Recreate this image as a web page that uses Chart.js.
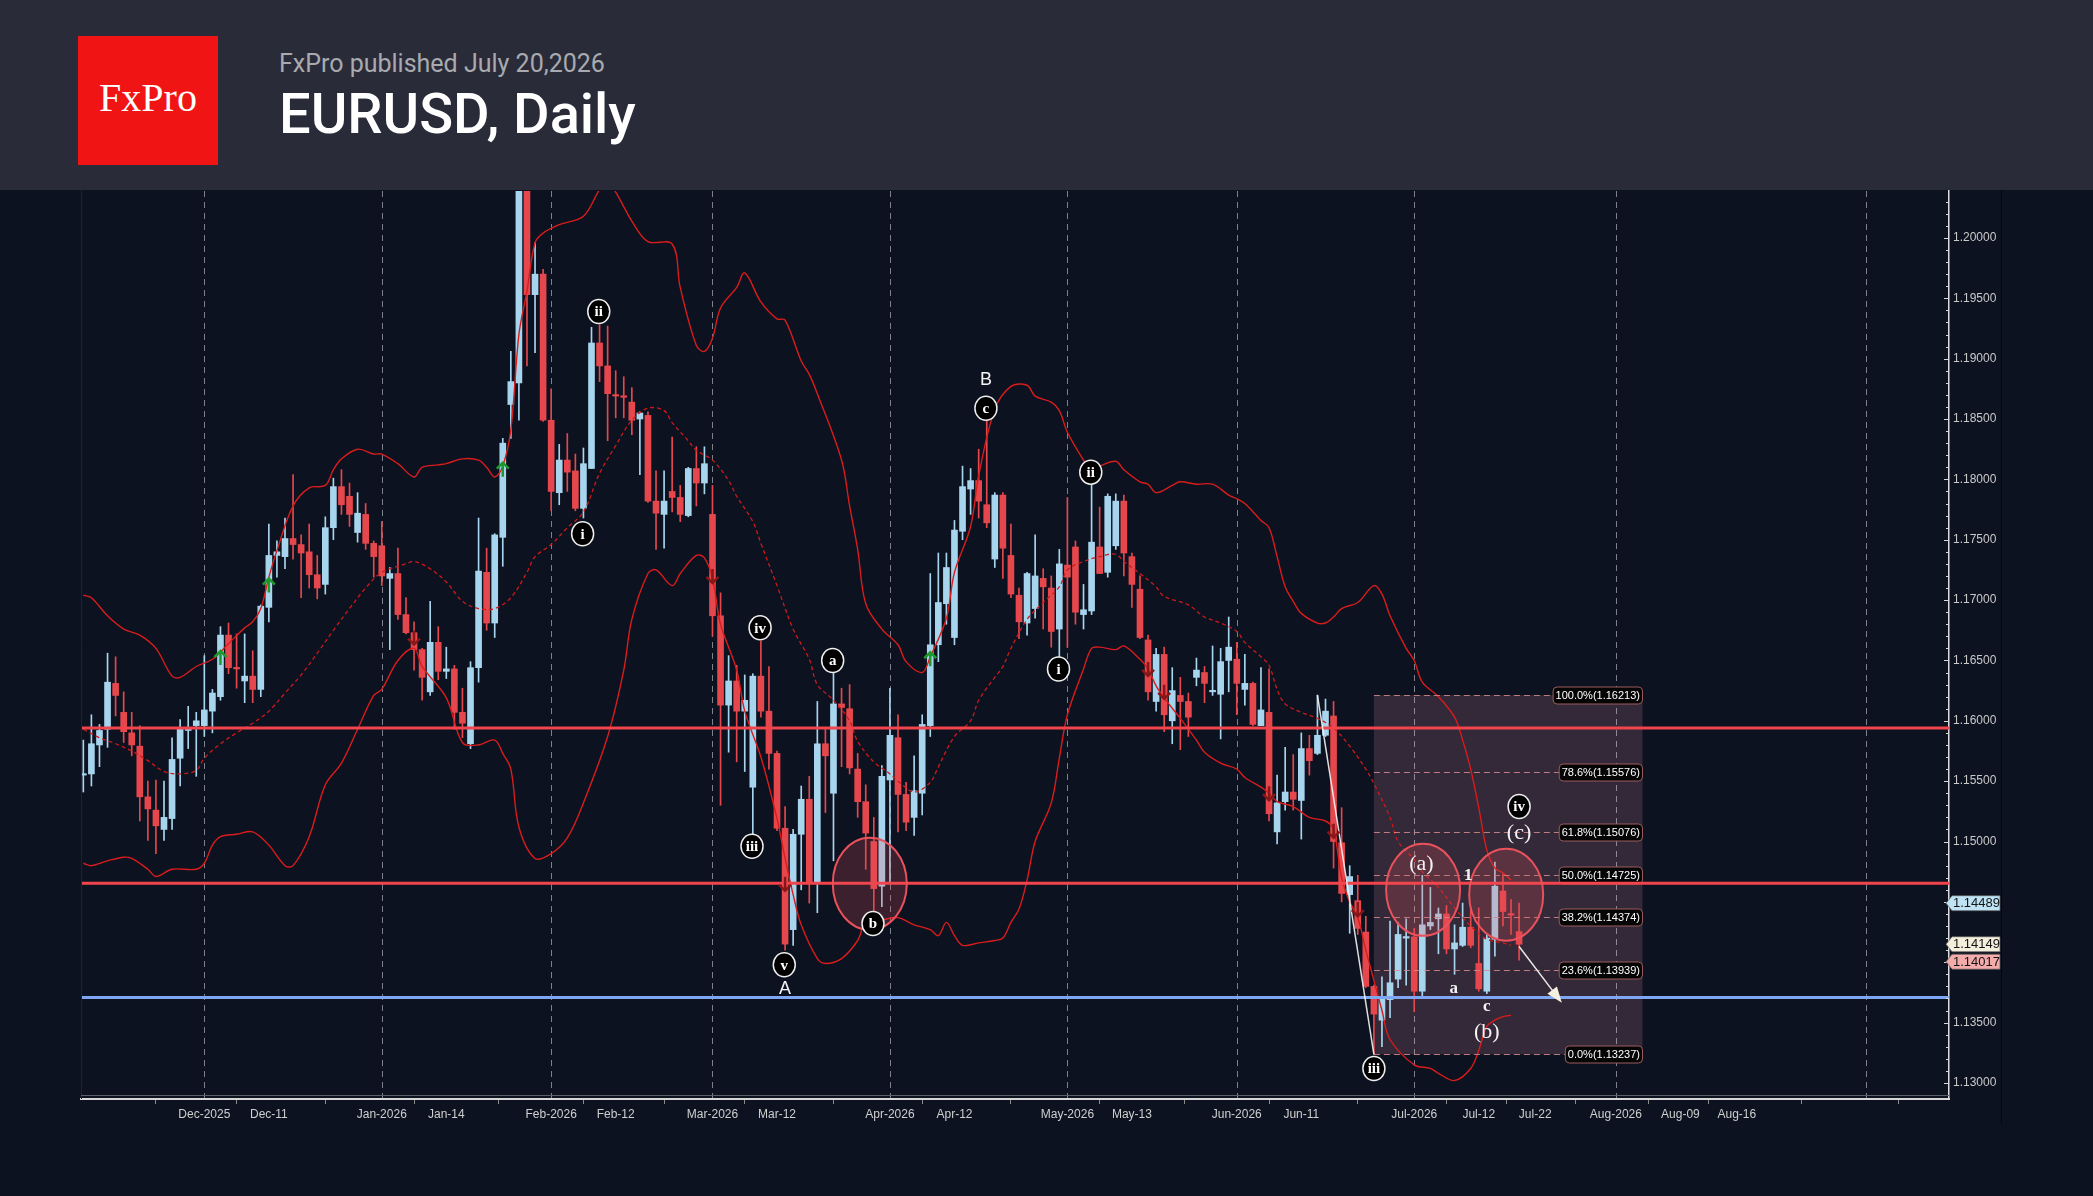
<!DOCTYPE html>
<html>
<head>
<meta charset="utf-8">
<script src="https://cdn.jsdelivr.net/npm/chart.js@4.4.1/dist/chart.umd.min.js"></script>
<style>
  html, body { margin:0; padding:0; background:#0c1220; width:2093px; height:1196px; overflow:hidden; }
  #header { position:absolute; left:0; top:0; width:2093px; height:190px; background:#292c38; }
  #logo { position:absolute; left:78px; top:36px; width:140px; height:129px; background:#f11414; }
  #logo span { position:absolute; left:0; width:140px; top:42px; text-align:center; color:#fff;
               font-family:'Liberation Serif', serif; font-size:40px; line-height:40px; }
  #sub { position:absolute; left:279px; top:51px; font-family:Roboto, sans-serif; font-size:25px; line-height:25px; color:#a9aab0; }
  #title { position:absolute; left:279px; top:86px; font-family:Roboto, sans-serif; font-size:56px; line-height:56px; font-weight:500; color:#fff; }
  #wrap { position:absolute; left:0; top:190px; width:2093px; height:1006px; }
</style>
</head>
<body>
<div id="header">
  <div id="logo"><span>FxPro</span></div>
  <div id="sub">FxPro published July 20,2026</div>
  <div id="title">EURUSD, Daily</div>
</div>
<div id="wrap"><canvas id="chart" width="2093" height="1006"></canvas></div>
<script>
// Daily candles, index 0 = first bar on the left (late Nov 2025), last = Jul 20 2026
const candleOpen = [
  1.1555,1.1556,1.1580,1.1593,1.1631,1.1607,1.1590,1.1579,1.1537,1.1526,
  1.1510,1.1519,1.1569,1.1592,1.1596,1.1596,1.1608,1.1620,1.1671,1.1644,
  1.1633,1.1637,1.1626,1.1694,1.1737,1.1736,1.1751,1.1746,1.1740,1.1721,
  1.1713,1.1760,1.1794,1.1786,1.1756,1.1771,1.1747,1.1745,1.1718,1.1722,
  1.1688,1.1673,1.1659,1.1624,1.1665,1.1641,1.1643,1.1607,1.1581,1.1644,
  1.1723,1.1681,1.1752,1.1862,1.1880,1.2055,1.1953,1.1970,1.1849,1.1789,
  1.1816,1.1807,1.1776,1.1809,1.1913,1.1894,1.1870,1.1869,1.1864,1.1850,
  1.1853,1.1782,1.1771,1.1790,1.1785,1.1770,1.1809,1.1797,1.1771,1.1687,
  1.1613,1.1633,1.1608,1.1545,1.1637,1.1608,1.1573,1.1511,1.1427,1.1506,
  1.1535,1.1466,1.1581,1.1540,1.1614,1.1610,1.1560,1.1533,1.1500,1.1463,
  1.1551,1.1586,1.1539,1.1520,1.1540,1.1596,1.1663,1.1697,1.1669,1.1757,
  1.1792,1.1799,1.1779,1.1734,1.1787,1.1737,1.1704,1.1681,1.1693,1.1718,
  1.1710,1.1676,1.1729,1.1744,1.1688,1.1691,1.1744,1.1723,1.1745,1.1782,
  1.1736,1.1709,1.1667,1.1616,1.1655,1.1600,1.1621,1.1616,1.1636,1.1640,
  1.1624,1.1622,1.1650,1.1651,1.1626,1.1631,1.1596,1.1607,1.1508,1.1533,
  1.1541,1.1534,1.1577,1.1573,1.1588,1.1604,1.1499,1.1456,1.1451,1.1425,
  1.1380,1.1352,1.1369,1.1386,1.1420,1.1421,1.1376,1.1430,1.1436,1.1440,
  1.1411,1.1414,1.1429,1.1399,1.1376,1.1419,1.1459,1.1440,1.14254
];
const candleHigh = [
  1.1584,1.1605,1.1597,1.1656,1.1653,1.1624,1.1607,1.1596,1.1550,1.1551,
  1.1550,1.1586,1.1601,1.1612,1.1607,1.1654,1.1626,1.1678,1.1681,1.1672,
  1.1672,1.1658,1.1696,1.1763,1.1749,1.1768,1.1804,1.1754,1.1763,1.1737,
  1.1769,1.1801,1.1808,1.1797,1.1789,1.1780,1.1749,1.1765,1.1727,1.1743,
  1.1702,1.1682,1.1660,1.1699,1.1678,1.1661,1.1646,1.1627,1.1649,1.1768,
  1.1743,1.1755,1.1834,1.1906,1.2085,1.2090,1.1996,1.1974,1.1875,1.1829,
  1.1838,1.1821,1.1826,1.1926,1.1928,1.1927,1.1890,1.1885,1.1876,1.1856,
  1.1856,1.1807,1.1807,1.1835,1.1795,1.1810,1.1827,1.1827,1.1795,1.1706,
  1.1654,1.1646,1.1638,1.1639,1.1666,1.1645,1.1575,1.1529,1.1510,1.1546,
  1.1554,1.1616,1.1594,1.1640,1.1627,1.1630,1.1573,1.1547,1.1520,1.1563,
  1.1627,1.1605,1.1549,1.1571,1.1605,1.1722,1.1739,1.1739,1.1766,1.1811,
  1.1809,1.1825,1.1851,1.1789,1.1789,1.1763,1.1710,1.1723,1.1754,1.1726,
  1.1720,1.1742,1.1785,1.1749,1.1713,1.1797,1.1777,1.1788,1.1788,1.1787,
  1.1739,1.1720,1.1671,1.1660,1.1661,1.1644,1.1636,1.1623,1.1652,1.1645,
  1.1662,1.1660,1.1686,1.1665,1.1655,1.1632,1.1644,1.1643,1.1555,1.1578,
  1.1572,1.1590,1.1588,1.16213,1.1618,1.1616,1.1528,1.1480,1.1472,1.1438,
  1.1381,1.1388,1.1434,1.1433,1.1436,1.1428,1.1472,1.1462,1.1445,1.1447,
  1.1431,1.1449,1.1445,1.1445,1.1423,1.1483,1.1473,1.1452,1.14489
];
const candleLow = [
  1.1541,1.1546,1.1562,1.1578,1.1604,1.1582,1.1571,1.1517,1.1501,1.1490,
  1.1501,1.1510,1.1546,1.1577,1.1554,1.1587,1.1590,1.1617,1.1639,1.1627,
  1.1615,1.1615,1.1620,1.1682,1.1719,1.1726,1.1734,1.1702,1.1710,1.1701,
  1.1705,1.1750,1.1771,1.1761,1.1748,1.1742,1.1719,1.1712,1.1659,1.1684,
  1.1672,1.1642,1.1617,1.1621,1.1634,1.1635,1.1593,1.1586,1.1577,1.1632,
  1.1675,1.1669,1.1728,1.1834,1.1849,1.1894,1.1905,1.1848,1.1774,1.1779,
  1.1790,1.1774,1.1768,1.1809,1.1881,1.1832,1.1851,1.1851,1.1837,1.1804,
  1.1781,1.1742,1.1743,1.1773,1.1765,1.1769,1.1778,1.1788,1.1670,1.1530,
  1.1574,1.1566,1.1558,1.1499,1.1603,1.1560,1.1509,1.1410,1.1414,1.1460,
  1.1449,1.1441,1.1524,1.1484,1.1562,1.1556,1.1520,1.1477,1.1432,1.1446,
  1.1465,1.1508,1.1509,1.1505,1.1522,1.1587,1.1649,1.1680,1.1663,1.1750,
  1.1771,1.1768,1.1760,1.1727,1.1718,1.1702,1.1668,1.1671,1.1685,1.1676,
  1.1661,1.1653,1.1661,1.1680,1.1676,1.1688,1.1722,1.1719,1.1742,1.1720,
  1.1694,1.1668,1.1617,1.1608,1.1591,1.1581,1.1576,1.1587,1.1629,1.1615,
  1.1621,1.1585,1.1624,1.1605,1.1613,1.1596,1.1596,1.1517,1.1498,1.1526,
  1.1526,1.1502,1.1555,1.1572,1.1587,1.1478,1.1450,1.1424,1.1423,1.1379,
  1.13237,1.1330,1.1354,1.1379,1.1381,1.1359,1.1372,1.1427,1.1407,1.1407,
  1.1390,1.1413,1.1412,1.1376,1.1374,1.1405,1.1430,1.1423,1.14017
];
const candleClose = [
  1.1556,1.1581,1.1592,1.1632,1.1621,1.1591,1.1580,1.1537,1.1527,1.1513,
  1.1520,1.1568,1.1593,1.1594,1.1600,1.1609,1.1623,1.1671,1.1644,1.1643,
  1.1637,1.1626,1.1695,1.1737,1.1740,1.1751,1.1746,1.1739,1.1721,1.1710,
  1.1760,1.1794,1.1779,1.1771,1.1772,1.1747,1.1736,1.1720,1.1722,1.1688,
  1.1673,1.1659,1.1636,1.1665,1.1641,1.1643,1.1607,1.1598,1.1644,1.1724,
  1.1681,1.1754,1.1830,1.1881,1.2055,1.1953,1.1970,1.1849,1.1790,1.1816,
  1.1806,1.1776,1.1813,1.1913,1.1894,1.1871,1.1869,1.1868,1.1849,1.1855,
  1.1782,1.1772,1.1782,1.1785,1.1771,1.1809,1.1797,1.1813,1.1687,1.1613,
  1.1633,1.1608,1.1617,1.1637,1.1608,1.1573,1.1511,1.1415,1.1506,1.1535,
  1.1466,1.1581,1.1571,1.1614,1.1611,1.1561,1.1533,1.1507,1.1461,1.1554,
  1.1588,1.1539,1.1516,1.1542,1.1597,1.1663,1.1698,1.1727,1.1758,1.1794,
  1.1799,1.1782,1.1764,1.1787,1.1743,1.1705,1.1682,1.1722,1.1720,1.1711,
  1.1674,1.1730,1.1719,1.1690,1.1692,1.1748,1.1722,1.1786,1.1782,1.1739,
  1.1713,1.1669,1.1624,1.1655,1.1605,1.1625,1.1616,1.1603,1.1642,1.1631,
  1.1625,1.1649,1.1661,1.1631,1.1631,1.1597,1.1609,1.1523,1.1532,1.1541,
  1.1535,1.1577,1.1567,1.1588,1.1608,1.1500,1.1457,1.1471,1.1428,1.1380,
  1.1357,1.1370,1.1383,1.1423,1.1421,1.1376,1.1431,1.1433,1.1440,1.1411,
  1.1416,1.1429,1.1414,1.1378,1.1420,1.1463,1.1442,1.1439,1.14149
];

// Bollinger bands: [bar index, price]
const bbUpper = [
  [0,1.1704],[1,1.1702],[3,1.1687],[5,1.1676],[7,1.1671],[9,1.1660],[11,1.1637],[12,1.1636],[14,1.1645],
  [16,1.1651],[18,1.1664],[20,1.1677],[21,1.1682],[22,1.1693],[23,1.1719],[24,1.1741],[26,1.1778],[28,1.1793],
  [30,1.1795],[31,1.1808],[32,1.1817],[34,1.1825],[36,1.1821],[37,1.1821],[39,1.1813],[41,1.1802],[42,1.1810],
  [44,1.1812],[45,1.1813],[47,1.1817],[49,1.1816],[50,1.1810],[51,1.1802],[52,1.1811],[53,1.1841],[54,1.1920],
  [55,1.1956],[56,1.1996],[57,1.2004],[59,1.2011],[62,1.2018],[64,1.2040],[65,1.2046],[66,1.2038],[68,1.2014],
  [70,1.1997],[73,1.1995],[74,1.1959],[76,1.1911],[77,1.1906],[78,1.1917],[79,1.1942],[81,1.1959],[82,1.1971],
  [84,1.1947],[86,1.1933],[87,1.1932],[89,1.1898],[90,1.1887],[91,1.1871],[94,1.1816],[95,1.1778],[96,1.1742],
  [97,1.1697],[99,1.1676],[101,1.1663],[102,1.1649],[104,1.1640],[105,1.1653],[107,1.1685],[108,1.1723],
  [110,1.1761],[111,1.1803],[113,1.1858],[115,1.1877],[117,1.1878],[118,1.1869],[120,1.1864],[121,1.1857],
  [122,1.1839],[124,1.1816],[125,1.1808],[126,1.1811],[128,1.1815],[129,1.1808],[131,1.1798],[132,1.1796],
  [133,1.1789],[135,1.1795],[136,1.1798],[138,1.1796],[140,1.1796],[142,1.1787],[143,1.1784],[144,1.1780],
  [146,1.1766],[147,1.1760],[148,1.1736],[149,1.1711],[150,1.1699],[151,1.1689],[153,1.1681],[154,1.1681],
  [155,1.1686],[156,1.1693],[158,1.1698],[160,1.1712],[161,1.1705],[162,1.1687],[164,1.1660],[165,1.1650],
  [166,1.1632],[168,1.1620],[170,1.1603],[171,1.1584],[172,1.1560],[173,1.1528],[174,1.1493],[175,1.1478],
  [176,1.1474],[177,1.1468]
];
const bbMiddle = [
  [0,1.1593],[2,1.1586],[4,1.1581],[6,1.1575],[8,1.1567],[10,1.1558],[12,1.1556],[14,1.1559],[15,1.1569],
  [17,1.1581],[19,1.1590],[21,1.1598],[23,1.1608],[25,1.1623],[27,1.1638],[29,1.1656],[31,1.1675],[33,1.1693],
  [35,1.1710],[37,1.1723],[40,1.1730],[41,1.1732],[43,1.1726],[45,1.1715],[47,1.1699],[49,1.1693],[51,1.1693],
  [53,1.1702],[55,1.1723],[56,1.1736],[58,1.1746],[60,1.1760],[62,1.1773],[64,1.1805],[66,1.1828],[68,1.1849],
  [70,1.1859],[72,1.1857],[73,1.1847],[75,1.1832],[76,1.1824],[78,1.1816],[80,1.1799],[81,1.1786],[83,1.1765],
  [84,1.1747],[86,1.1712],[88,1.1676],[90,1.1651],[91,1.1630],[93,1.1617],[95,1.1600],[96,1.1583],[98,1.1566],
  [100,1.1556],[101,1.1550],[103,1.1541],[105,1.1549],[106,1.1562],[108,1.1587],[110,1.1600],[111,1.1617],
  [113,1.1636],[114,1.1645],[115,1.1660],[117,1.1684],[119,1.1698],[121,1.1711],[122,1.1725],[124,1.1732],
  [126,1.1736],[128,1.1738],[129,1.1732],[131,1.1722],[133,1.1711],[134,1.1703],[137,1.1696],[139,1.1686],
  [141,1.1681],[143,1.1674],[144,1.1665],[146,1.1653],[147,1.1646],[148,1.1626],[149,1.1614],[151,1.1607],
  [153,1.1602],[155,1.1594],[157,1.1579],[159,1.1560],[160,1.1548],[162,1.1520],[163,1.1500],[165,1.1485],
  [166,1.1475],[168,1.1462],[170,1.1445],[172,1.1430],[174,1.1419],[176,1.1416],[177,1.1414]
];
const bbLower = [
  [0,1.1482],[1,1.1480],[3,1.1484],[5,1.1487],[6,1.1486],[8,1.1477],[9,1.1471],[11,1.1477],[14,1.1477],
  [15,1.1482],[16,1.1497],[17,1.1504],[19,1.1506],[21,1.1508],[23,1.1497],[25,1.1480],[26,1.1480],[28,1.1504],
  [30,1.1547],[32,1.1565],[34,1.1593],[36,1.1621],[37,1.1626],[39,1.1650],[41,1.1660],[42,1.1645],[45,1.1619],
  [47,1.1582],[49,1.1580],[51,1.1584],[52,1.1573],[53,1.1560],[54,1.1512],[56,1.1486],[58,1.1490],[60,1.1503],
  [62,1.1532],[65,1.1587],[67,1.1642],[68,1.1684],[70,1.1722],[71,1.1725],[73,1.1712],[74,1.1722],[76,1.1737],
  [77,1.1735],[78,1.1718],[79,1.1680],[81,1.1642],[82,1.1608],[84,1.1570],[86,1.1519],[87,1.1486],[88,1.1456],
  [89,1.1431],[91,1.1403],[92,1.1399],[94,1.1403],[96,1.1418],[97,1.1433],[99,1.1435],[101,1.1437],[103,1.1431],
  [105,1.1427],[106,1.1422],[107,1.1433],[108,1.1422],[109,1.1414],[111,1.1416],[113,1.1418],[114,1.1420],
  [115,1.1433],[116,1.1444],[117,1.1468],[118,1.1500],[120,1.1532],[121,1.1569],[122,1.1605],[124,1.1643],
  [125,1.1660],[126,1.1661],[128,1.1659],[129,1.1662],[131,1.1651],[132,1.1643],[133,1.1629],[134,1.1619],
  [136,1.1602],[138,1.1584],[139,1.1574],[141,1.1565],[143,1.1560],[144,1.1553],[146,1.1545],[147,1.1540],
  [148,1.1533],[150,1.1529],[152,1.1520],[154,1.1517],[155,1.1510],[156,1.1470],[157,1.1450],[158,1.1437],
  [159,1.1410],[160,1.1385],[161,1.1360],[162,1.1336],[165,1.1315],[167,1.1312],[168,1.1308],[170,1.1302],
  [172,1.1312],[173,1.1327],[174,1.1347],[175,1.1352],[176,1.1355],[177,1.1356]
];

// x axis ticks (bar index) and their labels
const tickIdx = [3,15,23,37,45,58,66,78,86,100,108,122,130,143,151,165,173,180,190,198,205,221,229];
const tickLabels = ['','Dec-2025','Dec-11','Jan-2026','Jan-14','Feb-2026','Feb-12','Mar-2026','Mar-12',
  'Apr-2026','Apr-12','May-2026','May-13','Jun-2026','Jun-11','Jul-2026','Jul-12','Jul-22',
  'Aug-2026','Aug-09','Aug-16','',''];
const monthLineIdx = [15,37,58,78,100,122,143,165,190,221];

// horizontal levels
const resistanceLevels = [1.15941, 1.14654];
const supportLevels = [1.13707];

// Fibonacci retracement
const fibRatios = [100.0, 78.6, 61.8, 50.0, 38.2, 23.6, 0.0];
const fibPrices = [1.16213, 1.15576, 1.15076, 1.14725, 1.14374, 1.13939, 1.13237];
const fibFromIdx = 160, fibToIdx = 193.3;

// wave counts
const waveText  = ['ii','i','iv','iii','v','a','b','c','ii','i','iii','iv'];
const waveIdx   = [63.9,61.9,83.9,82.9,86.9,92.9,97.9,111.9,124.9,120.9,160,178];
const wavePrice = [1.1939,1.1755,1.1677,1.1496,1.1398,1.1650,1.1432,1.1859,1.1806,1.1643,1.1312,1.1529];
const noteText  = ['B','A','(a)','(c)','(b)','a','c','1'];
const noteIdx   = [111.9,87,165.9,178,174,169.9,174,171.7];
const notePrice = [1.1882,1.1378,1.1481,1.1507,1.1342,1.1378,1.1363,1.1472];

// signal arrows
const upArrowIdx = [17,23,52,105];
const upArrowPrice = [1.1652,1.1712,1.1808,1.1651];
const downArrowIdx = [41,78,87,132,134,147,155,158];
const downArrowPrice = [1.1669,1.1720,1.1465,1.1643,1.1624,1.1540,1.1509,1.1444];

// highlighted zones
const zoneIdx = [97.5,166.1,176.4];
const zonePrice = [1.1465,1.1460,1.1456];

// wave iii leg and projected move
const legIdx = [153,160];
const legPrice = [1.16213,1.13237];
const projIdx = [178,183];
const projPrice = [1.1413,1.1369];

// right-hand price tags: high, close, low of the last bar
const tagPrices = [1.14489,1.14149,1.14017];

const BULL = '#a8d5ee';
const BEAR = '#e6474d';

const wickData = candleLow.map((l, i) => ({ x: i, y: [l, candleHigh[i]] }));
const bodyData = candleOpen.map((o, i) => ({ x: i, y: [o, candleClose[i]] }));
const candleColors = candleOpen.map((o, i) => candleClose[i] >= o ? BULL : BEAR);

function isMajor(v) {
    return Math.abs(v * 200 - Math.round(v * 200)) < 1e-6;
}

function roundRect(ctx, x, y, w, h, r) {
    ctx.beginPath();
    ctx.moveTo(x + r, y);
    ctx.lineTo(x + w - r, y);
    ctx.arcTo(x + w, y, x + w, y + r, r);
    ctx.lineTo(x + w, y + h - r);
    ctx.arcTo(x + w, y + h, x + w - r, y + h, r);
    ctx.lineTo(x + r, y + h);
    ctx.arcTo(x, y + h, x, y + h - r, r);
    ctx.lineTo(x, y + r);
    ctx.arcTo(x, y, x + r, y, r);
    ctx.closePath();
}

function arrow(ctx, cx, cy, up, color) {
    const d = up ? -1 : 1;
    ctx.strokeStyle = color;
    ctx.lineWidth = 2.5;
    ctx.setLineDash([]);
    ctx.beginPath();
    ctx.moveTo(cx, cy - d * 7);
    ctx.lineTo(cx, cy + d * 7);
    ctx.moveTo(cx - 6, cy + d * 1);
    ctx.lineTo(cx, cy + d * 7);
    ctx.lineTo(cx + 6, cy + d * 1);
    ctx.stroke();
}

// no extra room for half tick labels: the plot runs right up to the header
function noPad(s) {
    s.paddingTop = 0;
    s.paddingBottom = 0;
    s.paddingLeft = 0;
    s.paddingRight = 0;
}

const overlay = {
    id: 'overlay',
    beforeDatasetsDraw(chart) {
        const { ctx, chartArea: a, scales: { x, y } } = chart;
        ctx.save();
        ctx.beginPath();
        ctx.rect(a.left, a.top, a.right - a.left, a.bottom - a.top);
        ctx.clip();

        // fib box
        const bx0 = x.getPixelForValue(fibFromIdx), bx1 = x.getPixelForValue(fibToIdx);
        const by0 = y.getPixelForValue(fibPrices[0]), by1 = y.getPixelForValue(fibPrices[fibPrices.length - 1]);
        ctx.fillStyle = 'rgba(122,84,100,0.36)';
        ctx.fillRect(bx0, by0, bx1 - bx0, by1 - by0);

        // month separators
        ctx.strokeStyle = 'rgba(205,205,212,0.6)';
        ctx.lineWidth = 1;
        ctx.setLineDash([6, 5]);
        monthLineIdx.forEach(i => {
            const px = Math.round(x.getPixelForValue(i)) + 0.5;
            ctx.beginPath();
            ctx.moveTo(px, a.top);
            ctx.lineTo(px, a.bottom);
            ctx.stroke();
        });
        ctx.restore();
    },
    afterDatasetsDraw(chart) {
        const { ctx, chartArea: a, scales: { x, y } } = chart;
        ctx.save();
        ctx.beginPath();
        ctx.rect(a.left, a.top, a.right - a.left, a.bottom - a.top);
        ctx.clip();

        // fib level lines + labels
        const bx0 = x.getPixelForValue(fibFromIdx), bx1 = x.getPixelForValue(fibToIdx);
        ctx.font = '11px "Liberation Sans", Arial, sans-serif';
        fibPrices.forEach((p, k) => {
            const py = Math.round(y.getPixelForValue(p)) + 0.5;
            const txt = fibRatios[k].toFixed(1) + '%(' + p.toFixed(5) + ')';
            const w = ctx.measureText(txt).width + 5;
            const lx = bx1 - w;
            ctx.strokeStyle = 'rgba(214,140,140,0.85)';
            ctx.lineWidth = 1;
            ctx.setLineDash([6, 4]);
            ctx.beginPath();
            ctx.moveTo(bx0, py);
            ctx.lineTo(lx, py);
            ctx.stroke();
            ctx.setLineDash([]);
            roundRect(ctx, lx, py - 8.5, w, 17, 4);
            ctx.fillStyle = '#050505';
            ctx.fill();
            ctx.strokeStyle = '#9c5c5c';
            ctx.stroke();
            ctx.fillStyle = '#ffffff';
            ctx.textAlign = 'left';
            ctx.textBaseline = 'middle';
            ctx.fillText(txt, lx + 2.5, py + 0.5);
        });

        // horizontal levels
        ctx.setLineDash([]);
        ctx.lineWidth = 3;
        ctx.strokeStyle = '#f2444c';
        resistanceLevels.forEach(p => {
            const py = y.getPixelForValue(p);
            ctx.beginPath(); ctx.moveTo(a.left, py); ctx.lineTo(a.right, py); ctx.stroke();
        });
        ctx.strokeStyle = '#7fa6f2';
        supportLevels.forEach(p => {
            const py = y.getPixelForValue(p);
            ctx.beginPath(); ctx.moveTo(a.left, py); ctx.lineTo(a.right, py); ctx.stroke();
        });

        // highlighted zones
        zoneIdx.forEach((i, k) => {
            const cx = x.getPixelForValue(i), cy = y.getPixelForValue(zonePrice[k]);
            ctx.beginPath();
            ctx.ellipse(cx, cy, 37, 46, 0, 0, Math.PI * 2);
            ctx.fillStyle = 'rgba(232,80,92,0.22)';
            ctx.fill();
            ctx.lineWidth = 2;
            ctx.strokeStyle = '#e9525c';
            ctx.stroke();
        });

        // wave iii leg
        ctx.strokeStyle = 'rgba(245,245,245,0.9)';
        ctx.lineWidth = 1.5;
        ctx.beginPath();
        ctx.moveTo(x.getPixelForValue(legIdx[0]), y.getPixelForValue(legPrice[0]));
        ctx.lineTo(x.getPixelForValue(legIdx[1]), y.getPixelForValue(legPrice[1]));
        ctx.stroke();

        // projection arrow
        const ax0 = x.getPixelForValue(projIdx[0]), ay0 = y.getPixelForValue(projPrice[0]);
        const ax1 = x.getPixelForValue(projIdx[1]), ay1 = y.getPixelForValue(projPrice[1]);
        ctx.strokeStyle = '#e8e8e8';
        ctx.lineWidth = 1.5;
        ctx.beginPath(); ctx.moveTo(ax0, ay0); ctx.lineTo(ax1, ay1); ctx.stroke();
        const ang = Math.atan2(ay1 - ay0, ax1 - ax0);
        ctx.fillStyle = '#f5efe0';
        ctx.beginPath();
        ctx.moveTo(ax1 + 4 * Math.cos(ang), ay1 + 4 * Math.sin(ang));
        ctx.lineTo(ax1 - 12 * Math.cos(ang) + 6 * Math.sin(ang), ay1 - 12 * Math.sin(ang) - 6 * Math.cos(ang));
        ctx.lineTo(ax1 - 12 * Math.cos(ang) - 6 * Math.sin(ang), ay1 - 12 * Math.sin(ang) + 6 * Math.cos(ang));
        ctx.closePath();
        ctx.fill();

        // signal arrows
        upArrowIdx.forEach((i, k) => arrow(ctx, x.getPixelForValue(i), y.getPixelForValue(upArrowPrice[k]), true, '#1d9a2c'));
        downArrowIdx.forEach((i, k) => arrow(ctx, x.getPixelForValue(i), y.getPixelForValue(downArrowPrice[k]), false, '#8a1717'));

        // circled wave labels
        waveText.forEach((t, k) => {
            const cx = x.getPixelForValue(waveIdx[k]), cy = y.getPixelForValue(wavePrice[k]);
            ctx.beginPath();
            ctx.ellipse(cx, cy, 11, 12, 0, 0, Math.PI * 2);
            ctx.fillStyle = '#000';
            ctx.fill();
            ctx.lineWidth = 1.5;
            ctx.strokeStyle = '#eeeeee';
            ctx.stroke();
            ctx.fillStyle = '#ffffff';
            ctx.font = 'bold 15px "Liberation Serif", serif';
            ctx.textAlign = 'center';
            ctx.textBaseline = 'middle';
            ctx.fillText(t, cx, cy + 1);
        });

        // plain labels
        noteText.forEach((t, k) => {
            const cx = x.getPixelForValue(noteIdx[k]), cy = y.getPixelForValue(notePrice[k]);
            if (t === 'A' || t === 'B') {
                ctx.font = '18px "Liberation Sans", Arial, sans-serif';
            } else if (t.length > 1) {
                ctx.font = '22px "Liberation Serif", serif';
            } else {
                ctx.font = 'bold 17px "Liberation Serif", serif';
            }
            ctx.fillStyle = '#f4f4f4';
            ctx.textAlign = 'center';
            ctx.textBaseline = 'middle';
            ctx.fillText(t, cx, cy);
        });
        ctx.restore();
    },
    afterDraw(chart) {
        const { ctx, chartArea: a, scales: { y } } = chart;
        ctx.save();
        // y tick marks pointing into the plot
        ctx.strokeStyle = '#d8d8d8';
        ctx.lineWidth = 1;
        y.ticks.forEach(t => {
            const py = Math.round(y.getPixelForValue(t.value)) + 0.5;
            const len = isMajor(t.value) ? 5 : 3;
            ctx.beginPath(); ctx.moveTo(a.right - len, py); ctx.lineTo(a.right, py); ctx.stroke();
        });
        // frame lines
        ctx.strokeStyle = '#03060c';
        ctx.beginPath(); ctx.moveTo(2001.5, 0); ctx.lineTo(2001.5, a.bottom + 25); ctx.stroke();
        ctx.strokeStyle = '#1c2230';
        ctx.beginPath(); ctx.moveTo(a.left + 0.5, 0); ctx.lineTo(a.left + 0.5, a.bottom); ctx.stroke();
        ctx.strokeStyle = '#5a5e66';
        ctx.beginPath(); ctx.moveTo(a.left, a.bottom - 3.5); ctx.lineTo(a.right, a.bottom - 3.5); ctx.stroke();

        // price tags
        const tagBg = ['#bfe3f5', '#f4efdc', '#f4abab'];
        ctx.font = '13px "Liberation Sans", Arial, sans-serif';
        tagPrices.forEach((p, k) => {
            const yc = y.getPixelForValue(p) + (k === 2 ? 1.5 : 0);
            const x0 = a.right - 3;
            ctx.beginPath();
            ctx.moveTo(x0, yc);
            ctx.lineTo(x0 + 6, yc - 7.5);
            ctx.lineTo(2000, yc - 7.5);
            ctx.lineTo(2000, yc + 7.5);
            ctx.lineTo(x0 + 6, yc + 7.5);
            ctx.closePath();
            ctx.fillStyle = tagBg[k];
            ctx.fill();
            ctx.strokeStyle = 'rgba(90,90,90,0.7)';
            ctx.stroke();
            ctx.fillStyle = '#141414';
            ctx.textAlign = 'left';
            ctx.textBaseline = 'middle';
            ctx.fillText(p.toFixed(5), a.right + 4, yc + 0.5);
        });
        ctx.restore();
    }
};

new Chart(document.getElementById('chart'), {
    type: 'bar',
    data: {
        datasets: [
            { type: 'line', label: 'BB upper', data: bbUpper.map(([i, v]) => ({ x: i, y: v })),
              borderColor: '#d91c1c', borderWidth: 1.4, pointRadius: 0, tension: 0.35, order: 0 },
            { type: 'line', label: 'BB middle', data: bbMiddle.map(([i, v]) => ({ x: i, y: v })),
              borderColor: '#cc1a1a', borderWidth: 1.3, borderDash: [4, 3], pointRadius: 0, tension: 0.35, order: 0 },
            { type: 'line', label: 'BB lower', data: bbLower.map(([i, v]) => ({ x: i, y: v })),
              borderColor: '#d91c1c', borderWidth: 1.4, pointRadius: 0, tension: 0.35, order: 0 },
            { label: 'Body', data: bodyData, backgroundColor: candleColors, barThickness: 6,
              grouped: false, minBarLength: 1.5, order: 1 },
            { label: 'Wick', data: wickData, backgroundColor: candleColors, barThickness: 1,
              grouped: false, order: 2 }
        ]
    },
    options: {
        responsive: false,
        devicePixelRatio: 1,
        animation: false,
        layout: { padding: { left: 81, top: 1, right: 92, bottom: 72 } },
        plugins: { legend: { display: false }, tooltip: { enabled: false } },
        scales: {
            x: {
                type: 'linear',
                min: -0.29,
                max: 231.3,
                offset: false,
                afterBuildTicks: s => { s.ticks = tickIdx.map(v => ({ value: v })); },
                afterFit: s => { s.height = 25; noPad(s); },
                grid: { display: true, drawOnChartArea: false, drawTicks: true, tickLength: 5, tickColor: '#8d8d8d' },
                border: { display: true, color: '#d6d6d6', width: 2 },
                ticks: {
                    autoSkip: false, maxRotation: 0, padding: 3,
                    color: '#cfcfcf',
                    font: { family: '"Liberation Sans", Arial', size: 12 },
                    callback: (v, i) => tickLabels[i]
                }
            },
            y: {
                type: 'linear',
                position: 'right',
                min: 1.12867,
                max: 1.20389,
                afterFit: s => { s.width = 52; noPad(s); },
                grid: { display: true, drawOnChartArea: false, drawTicks: false },
                border: { display: true, color: '#dcdcdc', width: 1.5 },
                ticks: {
                    stepSize: 0.001,
                    autoSkip: false,
                    includeBounds: false,
                    padding: 4,
                    color: '#c9c9c9',
                    font: { family: '"Liberation Sans", Arial', size: 12 },
                    callback: v => isMajor(v) ? v.toFixed(5) : ''
                }
            }
        }
    },
    plugins: [overlay]
});
</script>
</body>
</html>
